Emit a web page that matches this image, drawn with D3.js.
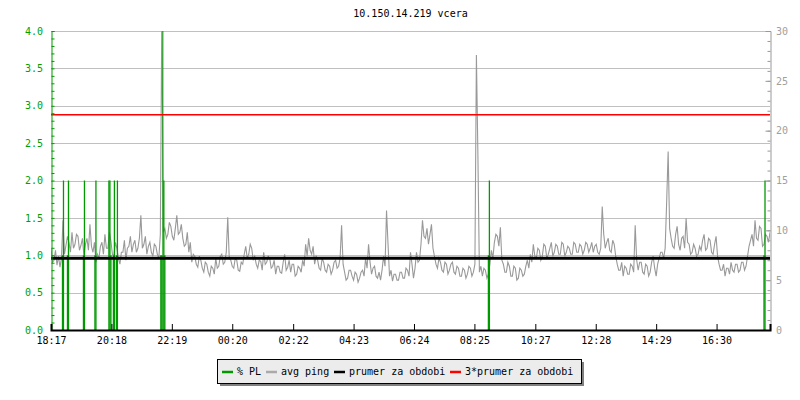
<!DOCTYPE html>
<html><head><meta charset="utf-8">
<script src="https://cdn.jsdelivr.net/npm/d3@7"></script>
<style>
body{margin:0;background:#fff;}
text{font-family:"DejaVu Sans Mono",monospace;font-size:10px;}
</style></head>
<body><svg id="c" width="800" height="400"></svg>
<script>
const title = "10.150.14.219 vcera";
const startLabel = "18:17";
const spanMinutes = 1440;
const tickLabels = ["18:17","20:18","22:19","00:20","02:22","04:23","06:24","08:25","10:27","12:28","14:29","16:30"];
const leftTicks = [0,0.5,1,1.5,2,2.5,3,3.5,4];
const rightTicks = [0,5,10,15,20,25,30];
const legendLabels = ["% PL","avg ping","prumer za obdobi","3*prumer za obdobi"];
// avg ping [ms], one sample every 3 minutes from 18:17
const pingStep = 3;
const pingValues = [
8.2,6.8,7.0,8.0,6.5,7.4,6.3,7.2,11.0,7.6,
8.5,9.4,8.8,7.8,9.8,8.2,8.6,9.6,9.4,8.0,
8.5,9.2,7.4,8.6,9.2,8.0,10.6,8.4,7.8,8.8,
6.8,7.6,7.2,8.4,8.8,7.6,9.6,8.2,8.2,9.8,
8.9,7.6,7.4,8.8,8.2,7.2,6.6,7.8,7.8,9.0,
7.0,8.2,8.4,9.4,7.8,8.6,9.0,7.8,8.2,9.2,
11.5,8.2,8.6,9.4,7.6,8.4,8.8,7.8,7.4,8.6,
8.4,7.6,7.2,9.6,32,9.8,10.2,9.2,9.6,10.8,
10.4,9.4,9.0,10.2,11.5,9.6,9.8,10.6,9.2,8.4,
8.6,9.8,7.8,8.8,6.8,7.6,7.4,6.6,6.3,7.4,
7.0,6.2,5.8,6.8,6.6,5.8,5.4,6.4,6.2,5.6,
7.2,6.2,6.4,7.4,7.6,6.6,6.8,7.8,11.3,7.2,
7.0,6.4,6.2,7.2,7.0,6.0,5.9,6.8,6.6,7.6,
8.4,7.2,7.6,8.6,8.2,7.0,7.4,6.6,6.2,7.0,
6.9,6.0,7.8,6.6,6.8,7.4,7.2,6.2,6.4,7.0,
5.6,6.4,6.4,5.8,5.7,6.8,7.6,6.0,6.3,7.0,
5.8,6.6,6.6,5.4,5.6,6.4,6.2,5.8,7.0,6.4,
8.6,7.4,9.2,8.0,7.6,8.4,6.6,7.4,7.0,6.2,
6.0,7.2,6.8,6.0,5.8,6.6,6.4,5.6,6.0,6.8,
7.0,6.2,6.4,7.2,10.5,6.6,5.8,5.0,5.2,6.0,
6.0,5.4,5.0,5.8,5.6,4.8,5.2,5.8,6.0,5.4,
7.2,6.2,8.6,6.8,5.6,6.2,6.4,5.4,5.2,5.8,
5.0,6.0,7.4,6.4,12.0,8.6,5.4,6.0,4.9,5.6,
5.6,5.0,5.0,5.8,5.8,5.2,5.2,6.2,6.0,5.4,
7.8,6.6,5.2,6.2,7.8,6.8,7.0,8.6,11.0,9.4,
9.2,10.2,8.6,9.6,10.6,8.2,7.4,6.6,6.2,7.2,
6.8,6.0,5.8,6.8,6.6,5.6,6.0,6.6,6.8,5.8,
5.6,6.4,6.2,5.4,5.4,6.2,6.0,5.2,5.6,6.4,
6.2,5.4,5.8,6.6,27.6,17.5,5.8,6.4,5.4,6.2,
6.0,5.2,5.6,6.6,8.0,7.2,8.8,9.6,9.4,8.4,
10.3,7.0,6.6,5.8,5.8,6.8,6.4,5.4,5.4,6.4,
6.2,5.0,5.2,6.2,6.0,5.4,5.6,6.4,7.0,6.2,
7.6,6.8,8.6,7.4,7.2,8.2,8.0,7.0,7.4,8.6,
8.4,7.2,7.6,8.2,8.8,7.4,7.8,8.6,8.4,7.6,
7.6,8.8,8.6,7.4,7.8,8.4,8.2,7.6,7.6,8.8,
8.6,7.8,7.8,8.6,8.4,7.6,8.0,8.8,8.6,7.8,
8.2,8.8,7.8,8.4,8.6,7.8,7.6,8.2,12.4,9.6,
8.2,8.8,9.2,8.0,7.8,9.0,8.6,7.4,6.6,6.0,
6.0,6.8,5.4,6.4,6.2,5.6,5.6,6.6,6.4,5.8,
10.5,7.0,6.0,6.8,6.8,5.8,5.6,6.6,6.4,5.4,
5.8,6.8,7.4,6.2,5.4,6.6,7.2,7.8,7.8,7.2,
8.2,12.8,17.9,10.2,9.2,8.4,8.2,9.6,10.4,8.6,
8.0,9.2,9.4,8.2,11.2,8.8,8.6,7.6,7.8,8.6,
8.2,7.4,7.6,8.4,8.0,9.0,9.6,8.0,8.2,9.2,
9.0,7.8,7.6,8.6,9.4,7.4,6.6,6.0,6.0,6.6,
5.4,6.2,6.2,5.6,6.8,6.0,5.8,6.6,6.6,5.8,
6.0,6.8,6.8,6.0,6.4,7.4,8.4,9.0,9.6,8.4,
11.0,9.2,9.0,10.4,10.2,8.4,8.6,9.6,9.4,8.8,
9.8];
// packet loss events [minutes from start, %]
const plMinutes = [23,25,33,35,65,67,88,90,116,118,120,125,127,131,133,220,222,224,226,228,876,878,1428,1430];
const plValues  = [1,2,1,2,1,2,1,2,2,2,1,1,2,1,2,1,1,4.5,2,1,1,2,1,2];
const pingMean = 7.2;
const pingMean3 = 21.6;

const svg = d3.select("#c");
const L = 51, R = 770, T = 31, B = 330;
const x = d3.scaleLinear().domain([0, spanMinutes]).range([L, R]);
const yL = d3.scaleLinear().domain([0, 4]).range([B, T]);
const yR = d3.scaleLinear().domain([0, 30]).range([B, T]);

function toMin(s){const [h,m]=s.split(":").map(Number);return h*60+m;}
const s0 = toMin(startLabel);
const tickMins = tickLabels.map(l => { let d = toMin(l)-s0; if (d<0) d+=1440; return d; });

svg.append("defs").append("clipPath").attr("id","clip")
  .append("rect").attr("x",L).attr("y",T).attr("width",R-L).attr("height",B-T);

// title
svg.append("text").attr("x",(L+R)/2).attr("y",17).attr("text-anchor","middle").attr("fill","#000").text(title);

// gridlines
svg.append("g").selectAll("line").data(leftTicks.filter(d=>d>0)).join("line")
  .attr("x1",L).attr("x2",R).attr("y1",d=>Math.round(yL(d))+0.5).attr("y2",d=>Math.round(yL(d))+0.5)
  .attr("stroke","#c0c0c0").attr("stroke-width",1);

const g = svg.append("g").attr("clip-path","url(#clip)");
// ping
const pingData = pingValues.map((v,i)=>[i*pingStep, v]);
g.append("path").datum(pingData)
  .attr("d", d3.line().x(d=>x(d[0])).y(d=>yR(d[1])))
  .attr("fill","none").attr("stroke","#999999").attr("stroke-width",1.1);
// PL
g.append("g").selectAll("line").data(plMinutes.map((m,i)=>[m,plValues[i]])).join("line")
  .attr("x1",d=>x(d[0])).attr("x2",d=>x(d[0]))
  .attr("y1",yL(0)).attr("y2",d=>yL(d[1]))
  .attr("stroke","#009900").attr("stroke-width",d=>d[1]>2?1:1.3);
// mean lines
g.append("line").attr("x1",L).attr("x2",R).attr("y1",yR(pingMean)).attr("y2",yR(pingMean))
  .attr("stroke","#000").attr("stroke-width",3);
g.append("line").attr("x1",L).attr("x2",R).attr("y1",yR(pingMean3)).attr("y2",yR(pingMean3))
  .attr("stroke","#ff0000").attr("stroke-width",1.5);

// left axis
const leftMinor = d3.range(0,41).map(d=>d/10);
const la = svg.append("g").attr("transform",`translate(${L+0.5},0)`)
  .call(d3.axisRight(yL).tickValues(leftMinor).tickSize(3).tickFormat(""));
la.selectAll("line,path").attr("stroke","#009900");
const ll = svg.append("g").attr("transform",`translate(${L},0)`)
  .call(d3.axisLeft(yL).tickValues(leftTicks).tickSize(0).tickPadding(8).tickFormat(d3.format(".1f")));
ll.select(".domain").remove();
ll.selectAll("text").attr("fill","#00a000").style("font-family","DejaVu Sans Mono").style("font-size","10px");

// right axis
const ra = svg.append("g").attr("transform",`translate(${R+0.5},0)`)
  .call(d3.axisLeft(yR).tickValues(d3.range(0,31)).tickSize(3).tickFormat(""));
ra.selectAll("line,path").attr("stroke","#999");
const ra2 = svg.append("g").attr("transform",`translate(${R+0.5},0)`)
  .call(d3.axisLeft(yR).tickValues(rightTicks).tickSize(5).tickFormat(""));
ra2.select(".domain").remove();
ra2.selectAll("line").attr("stroke","#999");
const rl = svg.append("g").attr("transform",`translate(${R},0)`)
  .call(d3.axisRight(yR).tickValues(rightTicks).tickSize(0).tickPadding(6));
rl.select(".domain").remove();
rl.selectAll("text").attr("fill","#a0a0a0").style("font-family","DejaVu Sans Mono").style("font-size","10px");

// bottom axis
const ba = svg.append("g").attr("transform",`translate(0,${B})`)
  .call(d3.axisTop(x).tickValues(tickMins).tickSize(6).tickFormat(""));
ba.selectAll("line").attr("stroke","#000");
ba.select(".domain").attr("stroke","#000").attr("stroke-width",2);
const bl = svg.append("g").attr("transform",`translate(0,${B})`)
  .call(d3.axisBottom(x).tickValues(tickMins).tickSize(0).tickPadding(7).tickFormat((d,i)=>tickLabels[i]));
bl.select(".domain").remove();
bl.selectAll("text").attr("fill","#000").style("font-family","DejaVu Sans Mono").style("font-size","10px");

// legend
const lx=217, ly=359, lw=364, lh=24;
svg.append("rect").attr("x",lx+3).attr("y",ly+3).attr("width",lw).attr("height",lh).attr("fill","#808080");
svg.append("rect").attr("x",lx+0.5).attr("y",ly+0.5).attr("width",lw).attr("height",lh).attr("fill","#ececec").attr("stroke","#000");
const legColors = ["#009900","#aaaaaa","#000000","#ff0000"];
const legX = [222,266,334,450];
legendLabels.forEach((t,i)=>{
  svg.append("line").attr("x1",legX[i]).attr("x2",legX[i]+11).attr("y1",372).attr("y2",372)
    .attr("stroke",legColors[i]).attr("stroke-width",2.5);
  svg.append("text").attr("x",legX[i]+15).attr("y",375).attr("fill","#000").text(t);
});
</script></body></html>
